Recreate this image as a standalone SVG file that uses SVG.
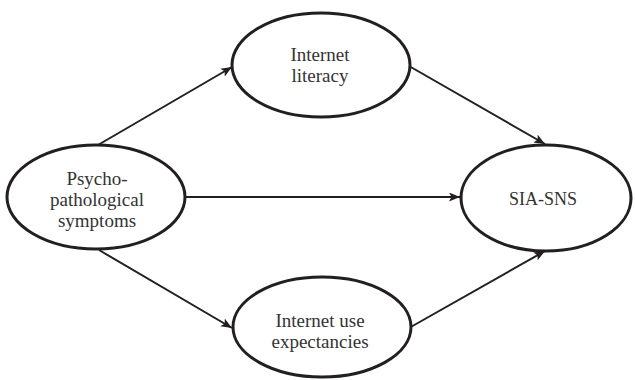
<svg xmlns="http://www.w3.org/2000/svg" width="635" height="380" viewBox="0 0 635 380">
<style>
.node ellipse{fill:#fff;stroke:#231f20;stroke-width:3}
.node text{font-family:"Liberation Serif","Times New Roman",serif;font-size:19px;fill:#333;text-anchor:middle}
.edges line{stroke:#231f20;stroke-width:2;marker-end:url(#arr)}
</style>
<defs>
<marker id="arr" markerUnits="userSpaceOnUse" markerWidth="12" markerHeight="10" refX="11" refY="4.5" orient="auto">
<path d="M0,0 L11,4.5 L0,9 L2.5,4.5 z" fill="#231f20"/>
</marker>
</defs>
<rect width="635" height="380" fill="#fff"/>
<g class="edges">
<line x1="98" y1="145" x2="232" y2="67"/>
<line x1="409" y1="66" x2="545" y2="144"/>
<line x1="186" y1="197" x2="460" y2="197"/>
<line x1="99" y1="250" x2="232" y2="328"/>
<line x1="409" y1="328" x2="545" y2="251"/>
</g>
<g id="psycho" class="node">
<ellipse cx="96" cy="197" rx="89" ry="52"/>
<text x="97" y="185">Psycho-</text>
<text x="97" y="206">pathological</text>
<text x="97" y="227">symptoms</text>
</g>
<g id="literacy" class="node">
<ellipse cx="321" cy="65" rx="89" ry="52"/>
<text x="320" y="61">Internet</text>
<text x="320" y="82">literacy</text>
</g>
<g id="expectancies" class="node">
<ellipse cx="322" cy="327" rx="89" ry="50"/>
<text x="320" y="327">Internet use</text>
<text x="320" y="348">expectancies</text>
</g>
<g id="sia" class="node">
<ellipse cx="546" cy="198" rx="85" ry="53"/>
<text x="543" y="205" style="font-size:18px">SIA-SNS</text>
</g>
</svg>
